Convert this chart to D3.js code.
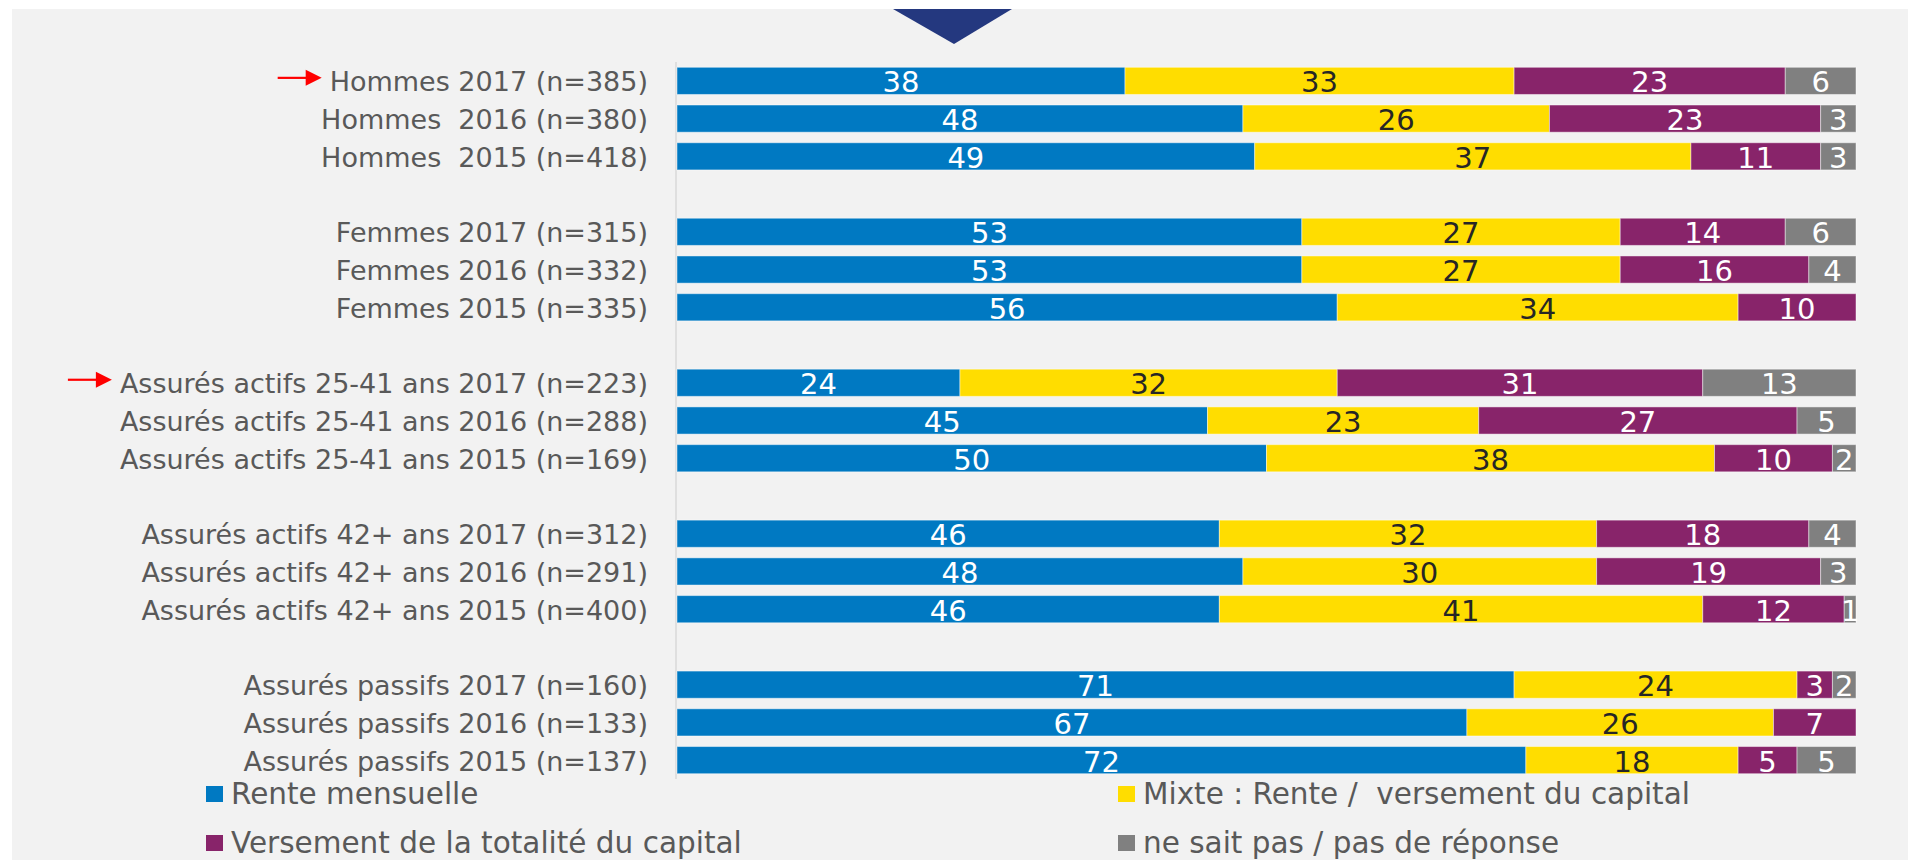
<!DOCTYPE html>
<html>
<head>
<meta charset="utf-8">
<script src="https://cdn.jsdelivr.net/npm/d3@7/dist/d3.min.js"></script>
<style>
  html, body { margin: 0; padding: 0; background: #ffffff; }
  svg { display: block; }
  text { font-family: "DejaVu Sans", Verdana, sans-serif; }
</style>
</head>
<body>
<svg id="chart" width="1908" height="860"></svg>
<script>
// ---------- DATA ----------
const categories = [
  "Hommes 2017 (n=385)",
  "Hommes  2016 (n=380)",
  "Hommes  2015 (n=418)",
  "Femmes 2017 (n=315)",
  "Femmes 2016 (n=332)",
  "Femmes 2015 (n=335)",
  "Assurés actifs 25-41 ans 2017 (n=223)",
  "Assurés actifs 25-41 ans 2016 (n=288)",
  "Assurés actifs 25-41 ans 2015 (n=169)",
  "Assurés actifs 42+ ans 2017 (n=312)",
  "Assurés actifs 42+ ans 2016 (n=291)",
  "Assurés actifs 42+ ans 2015 (n=400)",
  "Assurés passifs 2017 (n=160)",
  "Assurés passifs 2016 (n=133)",
  "Assurés passifs 2015 (n=137)"
];
const renteMensuelle = [38, 48, 49, 53, 53, 56, 24, 45, 50, 46, 48, 46, 71, 67, 72];
const mixte          = [33, 26, 37, 27, 27, 34, 32, 23, 38, 32, 30, 41, 24, 26, 18];
const versementTotal = [23, 23, 11, 14, 16, 10, 31, 27, 10, 18, 19, 12,  3,  7,  5];
const neSaitPas      = [ 6,  3,  3,  6,  4,  0, 13,  5,  2,  4,  3,  1,  2,  0,  5];
const seriesNames = [
  "Rente mensuelle",
  "Mixte : Rente /  versement du capital",
  "Versement de la totalité du capital",
  "ne sait pas / pas de réponse"
];
const highlighted = ["Hommes 2017 (n=385)", "Assurés actifs 25-41 ans 2017 (n=223)"];
const groupSize = 3;

// ---------- STYLE ----------
const colors = ["#0079C2", "#FFDD00", "#88246A", "#808080"];
const valueColors = ["#ffffff", "#262626", "#ffffff", "#ffffff"];
const textColor = "#595959";

const svg = d3.select("#chart");

// panel background
svg.append("rect").attr("x", 12).attr("y", 9).attr("width", 1896).attr("height", 851).attr("fill", "#f2f2f2");

// navy triangle at top
svg.append("polygon").attr("points", "893,9 1012,9 954,44").attr("fill", "#24387F");

// ---------- SCALES ----------
const nSlots = categories.length + Math.floor((categories.length - 1) / groupSize);
const slotOf = i => i + Math.floor(i / groupSize);
const y = d3.scaleBand().domain(d3.range(nSlots)).range([62, 779]).paddingInner(0.28).paddingOuter(0.14);
const x = d3.scaleLinear().domain([0, 100]).range([677, 1856]);

const seriesArrays = [renteMensuelle, mixte, versementTotal, neSaitPas];
const rows = categories.map((c, i) => {
  const r = { cat: c };
  seriesArrays.forEach((arr, k) => r["s" + k] = arr[i]);
  return r;
});
const stack = d3.stack().keys(["s0", "s1", "s2", "s3"])(rows);

// axis line
svg.append("line")
  .attr("x1", x(0) - 1).attr("x2", x(0) - 1)
  .attr("y1", y.range()[0]).attr("y2", y.range()[1])
  .attr("stroke", "#d9d9d9").attr("stroke-width", 1.5);

// bars
const layers = svg.append("g").selectAll("g").data(stack).join("g")
  .attr("fill", (d, k) => colors[k]);

layers.selectAll("rect").data(d => d.map((v, i) => ({ v, i })).filter(o => o.v[1] - o.v[0] > 0))
  .join("rect")
  .attr("x", o => x(o.v[0]))
  .attr("width", o => x(o.v[1]) - x(o.v[0]))
  .attr("y", o => y(slotOf(o.i)))
  .attr("height", y.bandwidth())
  .attr("stroke", "rgba(255,255,255,0.45)")
  .attr("stroke-width", 1);

// value labels
stack.forEach((layer, k) => {
  svg.append("g").selectAll("text")
    .data(layer.map((v, i) => ({ v, i })).filter(o => o.v[1] - o.v[0] > 0))
    .join("text")
    .attr("x", o => (x(o.v[0]) + x(o.v[1])) / 2)
    .attr("y", o => y(slotOf(o.i)) + y.bandwidth() / 2 + 11.5)
    .attr("text-anchor", "middle")
    .attr("font-size", 29)
    .attr("fill", valueColors[k])
    .text(o => o.v[1] - o.v[0]);
});

// category labels
const labels = svg.append("g").selectAll("text").data(categories).join("text")
  .attr("x", 648)
  .attr("y", (d, i) => y(slotOf(i)) + y.bandwidth() / 2 + 10.5)
  .attr("text-anchor", "end")
  .attr("font-size", 27)
  .attr("fill", textColor)
  .style("white-space", "pre")
  .text(d => d);

// red arrows for highlighted rows
labels.each(function (d, i) {
  if (!highlighted.includes(d)) return;
  const bb = this.getBBox();
  const tip = bb.x - 8;
  const cy = y(slotOf(i)) + y.bandwidth() / 2 - 3;
  svg.append("line").attr("x1", tip - 44).attr("x2", tip - 14).attr("y1", cy).attr("y2", cy)
    .attr("stroke", "#ff0000").attr("stroke-width", 2.2);
  svg.append("polygon")
    .attr("points", `${tip - 16},${cy - 8} ${tip},${cy} ${tip - 16},${cy + 8}`)
    .attr("fill", "#ff0000");
});

// legend
const legendPos = [
  { x: 206, y: 786 },
  { x: 1118, y: 786 },
  { x: 206, y: 835 },
  { x: 1118, y: 835 }
];
const legend = svg.append("g").selectAll("g").data(seriesNames).join("g")
  .attr("transform", (d, k) => `translate(${legendPos[k].x},${legendPos[k].y})`);
legend.append("rect").attr("width", 17).attr("height", 16).attr("fill", (d, k) => colors[k]);
legend.append("text")
  .attr("x", 25).attr("y", 17.5)
  .attr("font-size", 29.5)
  .attr("fill", textColor)
  .style("white-space", "pre")
  .text(d => d);
</script>
</body>
</html>
